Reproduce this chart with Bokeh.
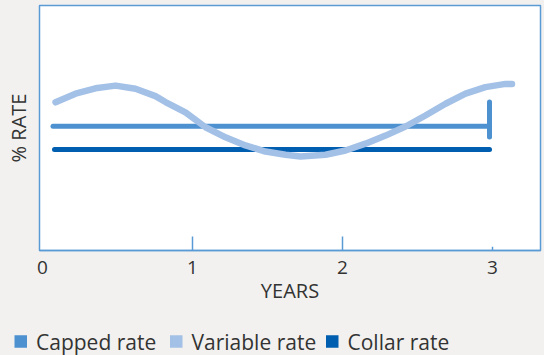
from bokeh.plotting import figure
from bokeh.layouts import column
from bokeh.models import FixedTicker, Range1d
from bokeh.core.properties import value
from bokeh.embed import file_html
from bokeh.resources import INLINE

# ---- data ----
year_ticks = [0, 1, 2, 3]
tick_marks = [1, 2, 3]

variable_x = [0.087, 0.22, 0.353, 0.487, 0.62, 0.753, 0.82, 0.953, 1.087, 1.22,
              1.353, 1.487, 1.62, 1.72, 1.887, 2.02, 2.153, 2.287, 2.42, 2.553,
              2.687, 2.82, 2.953, 3.087, 3.13]
variable_y = [6.05, 6.40, 6.62, 6.73, 6.60, 6.30, 6.06, 5.64, 5.03, 4.62,
              4.29, 4.04, 3.91, 3.84, 3.91, 4.08, 4.36, 4.69, 5.06, 5.51,
              5.99, 6.40, 6.67, 6.80, 6.80]

capped_x = [0.07, 2.98]
capped_y = [5.07, 5.07]
cap_x = [2.98]
cap_low = [4.63]
cap_high = [6.06]

collar_x = [0.08, 2.98]
collar_y = [4.12, 4.12]

series_names = ["Capped rate", "Variable rate", "Collar rate"]
series_colors = ["#4d91d0", "#a3c0e6", "#005eb0"]

FONT = "Open Sans"
TEXT = "#333333"
FRAME = "#5b9bd5"
BG = "#f2f1ef"

p = figure(width=544, height=310,
           x_range=Range1d(-0.02, 3.32), y_range=Range1d(0, 10),
           output_backend="svg", toolbar_location=None,
           min_border_left=39, min_border_right=4,
           min_border_top=5, min_border_bottom=60)
p.frame_align = False

p.grid.visible = False
p.background_fill_color = "white"
p.border_fill_color = BG
p.outline_line_color = FRAME
p.outline_line_width = 1.5

# x axis
xa = p.xaxis[0]
xa.ticker = FixedTicker(ticks=year_ticks)
xa.axis_line_color = FRAME
xa.axis_line_width = 1.5
xa.major_tick_line_color = None
xa.minor_tick_line_color = None
xa.major_label_text_font = FONT
xa.major_label_text_font_size = "19px"
xa.major_label_text_color = TEXT
xa.major_label_standoff = 4
xa.axis_label = "YEARS"
xa.axis_label_text_font = FONT
xa.axis_label_text_font_style = "normal"
xa.axis_label_text_font_size = "20px"
xa.axis_label_text_color = TEXT
xa.axis_label_standoff = 0

# y axis
ya = p.yaxis[0]
ya.ticker = FixedTicker(ticks=[])
ya.axis_line_color = None
ya.major_tick_line_color = None
ya.minor_tick_line_color = None
ya.major_label_text_font_size = "0px"
ya.axis_label = "% RATE"
ya.axis_label_text_font = FONT
ya.axis_label_text_font_style = "normal"
ya.axis_label_text_font_size = "20px"
ya.axis_label_text_color = TEXT
ya.axis_label_standoff = 8

# tick marks inside the frame
p.segment(x0=tick_marks, y0=[0] * len(tick_marks), x1=tick_marks,
          y1=[0.57, 0.57, 0.15], line_color=FRAME, line_width=1.5)

# lines
p.line(collar_x, collar_y, line_color=series_colors[2], line_width=5, line_cap="round")
p.line(capped_x, capped_y, line_color=series_colors[0], line_width=5, line_cap="round")
p.segment(x0=cap_x, y0=cap_low, x1=cap_x, y1=cap_high,
          line_color=series_colors[0], line_width=5, line_cap="round")
p.line(variable_x, variable_y, line_color=series_colors[1], line_width=6.5,
       line_cap="round", line_join="round")

# ---- legend strip: a small pixel-scaled figure under the chart ----
LW, LH = 544, 45
lg = figure(width=LW, height=LH, x_range=Range1d(0, LW), y_range=Range1d(0, LH),
            x_axis_type=None, y_axis_type=None,
            output_backend="svg", toolbar_location=None,
            min_border=0, min_border_left=0, min_border_right=0,
            min_border_top=0, min_border_bottom=0)
lg.frame_align = False
lg.grid.visible = False
lg.outline_line_color = None
lg.background_fill_color = BG
lg.border_fill_color = BG

item_left = [14, 169.5, 325.5]  # legend layout (pixels)
sw = 12.5                       # swatch size (pixels)
row_y = 14
lg.quad(left=item_left, right=[x + sw for x in item_left],
        bottom=[row_y - sw / 2] * 3, top=[row_y + sw / 2] * 3,
        fill_color=series_colors, line_color=None)
lg.text(x=[x + sw + 9 for x in item_left], y=[row_y] * 3, text=series_names,
        text_font=value(FONT), text_font_size="21px", text_color=TEXT,
        text_baseline="middle", text_align="left")

layout = column(p, lg, spacing=0)

html = file_html(layout, INLINE)
html = html.replace("</head>", "<style>html,body{background:%s;}</style></head>" % BG, 1)
open("out.html", "w").write(html)
